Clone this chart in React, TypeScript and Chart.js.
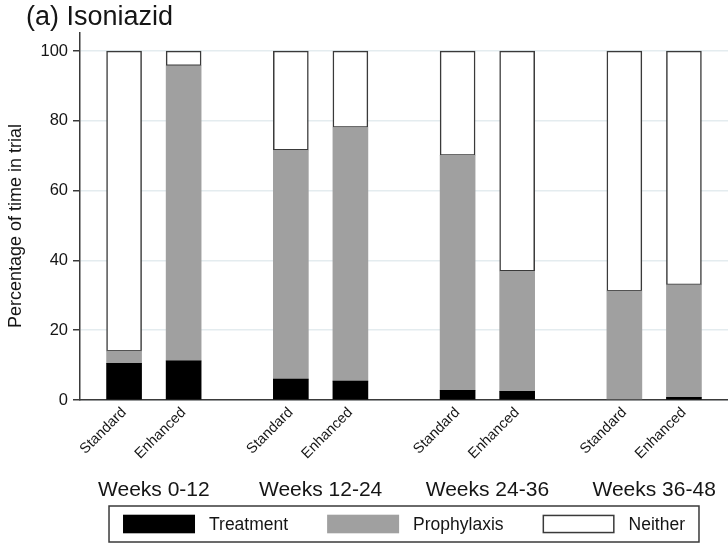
import { useEffect, useRef } from 'react';
import { Chart, registerables } from 'chart.js';

Chart.register(...registerables);

const panelTitle = '(a) Isoniazid';
const yAxisTitle = 'Percentage of time in trial';
const periods = ['Weeks 0-12', 'Weeks 12-24', 'Weeks 24-36', 'Weeks 36-48'];
const arms = ['Standard', 'Enhanced'];
const yTicks = [0, 20, 40, 60, 80, 100];
const seriesNames = ['Treatment', 'Prophylaxis', 'Neither'];

// Percentage of time in trial, one entry per arm within each period
// (Standard, Enhanced, Standard, Enhanced, ...)
const treatment = [10.5, 11.2, 6.0, 5.4, 2.8, 2.5, 0, 0.8];
const prophylaxis = [3.5, 84.6, 65.6, 72.7, 67.3, 34.4, 31.2, 32.2];
const neither = [86.0, 4.2, 28.4, 21.9, 29.9, 63.1, 68.8, 67.0];

const FONT = '"Liberation Sans", Arial, Helvetica, sans-serif';
const INK = '#151515';
const EDGE = '#3a3a3a';

// bars of one period sit one unit apart, periods are separated by an extra gap
const GROUP_STEP = arms.length + 0.8;
const slots = periods.flatMap((_, g) => arms.map((__, a) => g * GROUP_STEP + a));
const armLabels = periods.flatMap(() => arms);

const toPoints = (values: number[]) => values.map((y, i) => ({ x: slots[i], y }));

const panelText = {
  id: 'panelText',
  afterDraw(chart: any) {
    const { ctx, chartArea, scales } = chart;
    ctx.save();
    ctx.fillStyle = INK;

    // panel title
    ctx.font = `27px ${FONT}`;
    ctx.textAlign = 'left';
    ctx.textBaseline = 'alphabetic';
    ctx.fillText(panelTitle, 26, 25);

    // y axis title
    ctx.save();
    ctx.translate(16, 226);
    ctx.rotate(-Math.PI / 2);
    ctx.font = `18px ${FONT}`;
    ctx.textAlign = 'center';
    ctx.textBaseline = 'middle';
    ctx.fillText(yAxisTitle, 0, 0);
    ctx.restore();

    // period labels under each pair of bars
    ctx.font = `21px ${FONT}`;
    ctx.textAlign = 'center';
    ctx.textBaseline = 'middle';
    periods.forEach((p, g) => {
      const mid = g * GROUP_STEP + (arms.length - 1) / 2;
      ctx.fillText(p, scales.x.getPixelForValue(mid), 490);
    });

    // boxed key
    ctx.font = `17.5px ${FONT}`;
    const swatchW = 72;
    const swatchH = 18.6;
    const textGap = 14;
    const itemGap = 39;
    const pad = 14;
    const datasets = chart.data.datasets;
    const widths = datasets.map((d: any) => swatchW + textGap + ctx.measureText(d.label).width);
    const total = widths.reduce((s: number, w: number) => s + w, 0) + itemGap * (datasets.length - 1) + pad * 2;
    const cx = (chartArea.left + chartArea.right) / 2;
    const boxLeft = cx - total / 2;
    const boxTop = 506;
    const boxH = 36;
    ctx.strokeStyle = EDGE;
    ctx.lineWidth = 1.5;
    ctx.strokeRect(boxLeft, boxTop, total, boxH);

    let x = boxLeft + pad;
    const midY = boxTop + boxH / 2;
    ctx.textAlign = 'left';
    datasets.forEach((d: any, i: number) => {
      ctx.fillStyle = d.backgroundColor;
      ctx.fillRect(x, midY - swatchH / 2, swatchW, swatchH);
      if (d.borderWidth) {
        ctx.strokeStyle = d.borderColor;
        ctx.lineWidth = d.borderWidth;
        ctx.strokeRect(x + 0.75, midY - swatchH / 2 + 0.75, swatchW - 1.5, swatchH - 1.5);
      }
      ctx.fillStyle = INK;
      ctx.fillText(d.label, x + swatchW + textGap, midY + 1);
      x += widths[i] + itemGap;
    });

    ctx.restore();
  },
};

export default function App() {
  const canvasRef = useRef<HTMLCanvasElement | null>(null);

  useEffect(() => {
    const canvas = canvasRef.current;
    if (!canvas) return;

    const barCommon = {
      barThickness: 35,
      borderSkipped: false as const,
    };

    const chart = new Chart(canvas, {
      type: 'bar',
      data: {
        datasets: [
          {
            ...barCommon,
            label: seriesNames[0],
            data: toPoints(treatment),
            backgroundColor: '#000000',
            borderWidth: 0,
          },
          {
            ...barCommon,
            label: seriesNames[1],
            data: toPoints(prophylaxis),
            backgroundColor: '#a0a0a0',
            borderWidth: 0,
          },
          {
            ...barCommon,
            label: seriesNames[2],
            data: toPoints(neither),
            backgroundColor: '#ffffff',
            borderColor: EDGE,
            borderWidth: 1.5,
          },
        ] as any,
      },
      options: {
        animation: false,
        responsive: false,
        maintainAspectRatio: false,
        layout: { padding: { top: 33, right: 0, left: 0, bottom: 0 } },
        plugins: {
          legend: { display: false },
          title: { display: false },
          tooltip: { enabled: false },
        },
        scales: {
          x: {
            type: 'linear',
            stacked: true,
            offset: false,
            min: -0.74,
            max: 10.14,
            afterBuildTicks: (scale: any) => {
              scale.ticks = slots.map((v) => ({ value: v }));
            },
            afterFit: (scale: any) => {
              scale.height = 147;
            },
            grid: { display: false, drawTicks: false },
            border: { display: true, color: EDGE, width: 1.5 },
            ticks: {
              autoSkip: false,
              maxRotation: 45,
              minRotation: 45,
              padding: 4,
              color: INK,
              font: { family: FONT, size: 14.5 },
              callback: (_v: any, i: number) => armLabels[i],
            },
          },
          y: {
            stacked: true,
            min: 0,
            max: 105.2,
            afterBuildTicks: (scale: any) => {
              scale.ticks = yTicks.map((v) => ({ value: v }));
            },
            afterFit: (scale: any) => {
              scale.width = 80;
            },
            grid: {
              color: '#e4ecef',
              lineWidth: 1.5,
              tickLength: 7,
              tickColor: EDGE,
              tickWidth: 1.5,
            },
            border: { display: true, color: EDGE, width: 1.5 },
            ticks: {
              padding: 5,
              color: INK,
              font: { family: FONT, size: 16.5 },
            },
          },
        },
      } as any,
      plugins: [panelText],
    });

    return () => chart.destroy();
  }, []);

  return (
    <div style={{ position: 'fixed', left: 0, top: 0, width: 728, height: 547, background: '#ffffff' }}>
      <canvas ref={canvasRef} width={728} height={547} style={{ display: 'block' }} />
    </div>
  );
}
